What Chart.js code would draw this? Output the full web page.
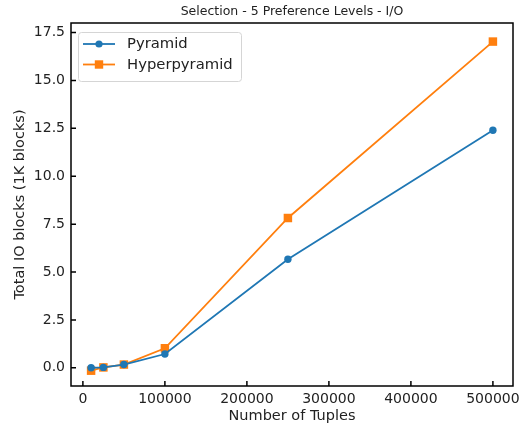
<!DOCTYPE html>
<html>
<head>
<meta charset="utf-8">
<script src="https://cdn.jsdelivr.net/npm/chart.js@4/dist/chart.umd.min.js"></script>
<style>
  html, body { margin: 0; padding: 0; background: #fff; }
  #wrap { width: 523px; height: 430px; }
</style>
</head>
<body>
<div id="wrap"><canvas id="ioChart" width="523" height="430"></canvas></div>
<script>
const chartTitle = 'Selection - 5 Preference Levels - I/O';
const tuples = [10000, 25000, 50000, 100000, 250000, 500000];
const pyramidIO = [0.0, 0.02, 0.17, 0.72, 5.67, 12.4];
const hyperpyramidIO = [-0.15, 0.02, 0.17, 1.02, 7.82, 17.03];
const xTicks = [0, 100000, 200000, 300000, 400000, 500000];
const yTicks = [0, 2.5, 5, 7.5, 10, 12.5, 15, 17.5];

const FONT = 'DejaVu Sans';

// matplotlib-like frame, inward ticks, title and legend
const mplDecor = {
  id: 'mplDecor',
  afterDatasetsDraw(chart) {
    const ctx = chart.ctx;
    const area = chart.chartArea;
    const xs = chart.scales.x;
    const ys = chart.scales.y;
    ctx.save();
    ctx.strokeStyle = '#000';
    ctx.lineWidth = 1.5;
    ctx.strokeRect(area.left, area.top, area.right - area.left, area.bottom - area.top);
    ctx.beginPath();
    xTicks.forEach((v) => {
      const px = xs.getPixelForValue(v);
      ctx.moveTo(px, area.bottom);
      ctx.lineTo(px, area.bottom - 5);
    });
    yTicks.forEach((v) => {
      const py = ys.getPixelForValue(v);
      ctx.moveTo(area.left, py);
      ctx.lineTo(area.left + 5, py);
    });
    ctx.stroke();

    // title
    ctx.fillStyle = '#222';
    ctx.font = '12.5px "' + FONT + '"';
    ctx.textAlign = 'center';
    ctx.textBaseline = 'middle';
    ctx.fillText(chartTitle, (area.left + area.right) / 2, 12);

    // legend
    const bx = 78, by = 32, bw = 163, bh = 49;
    ctx.fillStyle = 'rgba(255,255,255,0.85)';
    ctx.strokeStyle = '#d5d5d5';
    ctx.lineWidth = 1;
    ctx.beginPath();
    ctx.roundRect(bx + 0.5, by + 0.5, bw, bh, 3);
    ctx.fill();
    ctx.stroke();
    chart.data.datasets.forEach((ds, i) => {
      const cy = 44 + i * 20.5;
      ctx.strokeStyle = ds.borderColor;
      ctx.lineWidth = 1.8;
      ctx.beginPath();
      ctx.moveTo(83, cy);
      ctx.lineTo(115, cy);
      ctx.stroke();
      ctx.fillStyle = ds.backgroundColor;
      if (ds.pointStyle === 'rect') {
        ctx.fillRect(99 - 4.2, cy - 4.2, 8.4, 8.4);
      } else {
        ctx.beginPath();
        ctx.arc(99, cy, 3.6, 0, Math.PI * 2);
        ctx.fill();
      }
      ctx.fillStyle = '#222';
      ctx.font = '14.8px "' + FONT + '"';
      ctx.textAlign = 'left';
      ctx.textBaseline = 'middle';
      ctx.fillText(ds.label, 127, cy + 0.5);
    });
    ctx.restore();
  }
};

function makeChart() {
  const ctx = document.getElementById('ioChart').getContext('2d');
  new Chart(ctx, {
    type: 'line',
    data: {
      datasets: [
        {
          label: 'Pyramid',
          data: tuples.map((t, i) => ({ x: t, y: pyramidIO[i] })),
          borderColor: '#1f77b4',
          backgroundColor: '#1f77b4',
          borderWidth: 1.8,
          pointStyle: 'circle',
          pointRadius: 3.7,
          pointBorderWidth: 0,
          pointHoverRadius: 3.7,
          tension: 0,
        },
        {
          label: 'Hyperpyramid',
          data: tuples.map((t, i) => ({ x: t, y: hyperpyramidIO[i] })),
          borderColor: '#ff7f0e',
          backgroundColor: '#ff7f0e',
          borderWidth: 1.8,
          pointStyle: 'rect',
          pointRadius: 6,
          pointBorderWidth: 0,
          pointHoverRadius: 6,
          tension: 0,
        },
      ],
    },
    options: {
      responsive: false,
      animation: false,
      layout: { padding: { top: 23, right: 10, bottom: 0, left: 0 } },
      plugins: {
        legend: { display: false },
        title: { display: false },
        tooltip: { enabled: false },
      },
      scales: {
        x: {
          type: 'linear',
          min: -14500,
          max: 524500,
          afterFit: (scale) => {
            scale.height = 44;
            scale.paddingLeft = 0;
            scale.paddingRight = 0;
          },
          afterBuildTicks: (scale) => { scale.ticks = xTicks.map((v) => ({ value: v })); },
          grid: { display: false, drawTicks: false },
          border: { display: false },
          ticks: {
            padding: 5,
            maxRotation: 0,
            color: '#222',
            font: { family: FONT, size: 14 },
            callback: (v) => String(v),
          },
          title: {
            display: true,
            text: 'Number of Tuples',
            color: '#222',
            font: { family: FONT, size: 14.5 },
            padding: { top: 0, bottom: 5 },
          },
        },
        y: {
          type: 'linear',
          min: -0.95,
          max: 18.0,
          afterFit: (scale) => {
            scale.width = 71;
            scale.paddingTop = 0;
            scale.paddingBottom = 0;
          },
          afterBuildTicks: (scale) => { scale.ticks = yTicks.map((v) => ({ value: v })); },
          grid: { display: false, drawTicks: false },
          border: { display: false },
          ticks: {
            padding: 6,
            color: '#222',
            font: { family: FONT, size: 14 },
            callback: (v) => Number(v).toFixed(1),
          },
          title: {
            display: true,
            text: 'Total IO blocks (1K blocks)',
            color: '#222',
            font: { family: FONT, size: 14.5 },
            padding: { top: 12, bottom: 0 },
          },
        },
      },
    },
    plugins: [mplDecor],
  });
}

document.addEventListener('DOMContentLoaded', makeChart);
</script>
</body>
</html>
